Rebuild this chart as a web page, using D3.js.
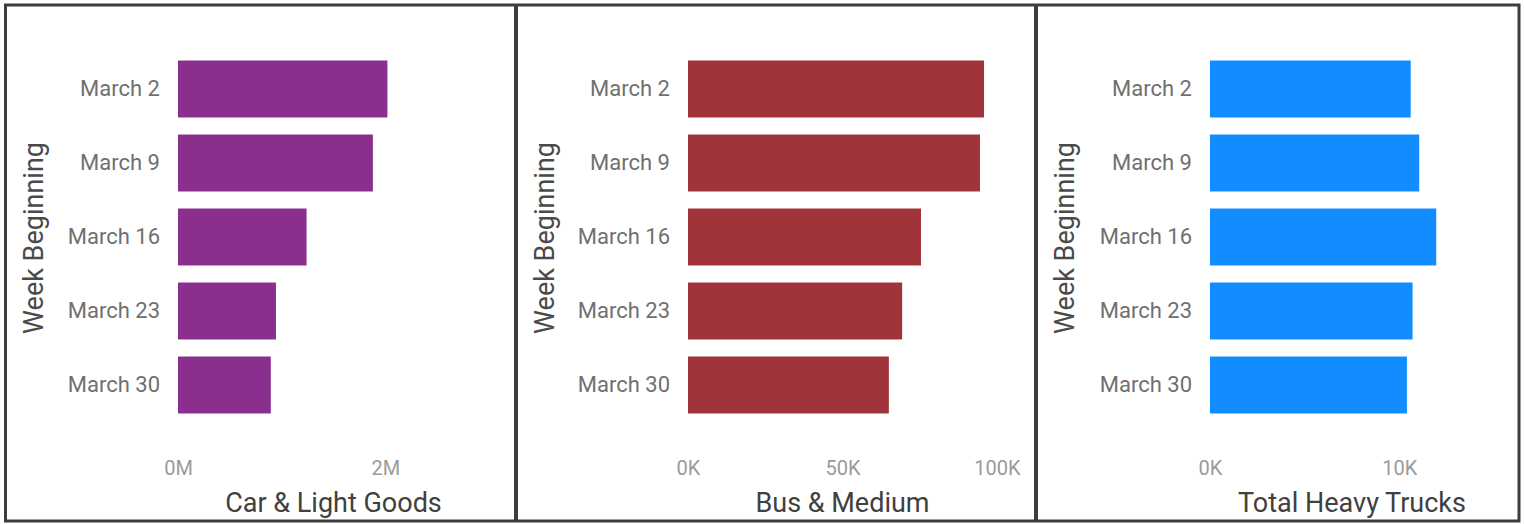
<!DOCTYPE html>
<html>
<head>
<meta charset="utf-8">
<script src="https://cdn.jsdelivr.net/npm/d3@7"></script>
<style>
  body { margin: 0; background: #fff; }
  svg { display: block; }
</style>
</head>
<body>
<svg id="chart"></svg>
<script>
// data
const weeks = ["March 2", "March 9", "March 16", "March 23", "March 30"];
const carLightGoods = [2020000, 1880000, 1240000, 945000, 895000];
const busMedium = [95800, 94500, 75400, 69300, 65000];
const heavyTrucks = [10600, 11050, 11950, 10700, 10400];

const carTicks = [0, 2000000];
const busTicks = [0, 50000, 100000];
const truckTicks = [0, 10000];

const yTitle = "Week Beginning";

const width = 1524;
const height = 524;
const fontFam = "Roboto, 'Open Sans', sans-serif";

let svg = d3.select("#chart").attr("width", width).attr("height", height);

// one entry per panel
const panels = [
  { title: "Car & Light Goods", values: carLightGoods, ticks: carTicks, max: 3000000, unit: "M", color: "#8a2f8e",
    left: 5, right: 516, plotL: 178, plotR: 489 },
  { title: "Bus & Medium", values: busMedium, ticks: busTicks, max: 100000, unit: "K", color: "#a1333b",
    left: 516, right: 1036, plotL: 688, plotR: 997 },
  { title: "Total Heavy Trucks", values: heavyTrucks, ticks: truckTicks, max: 15000, unit: "K", color: "#118dff",
    left: 1036, right: 1519, plotL: 1210, plotR: 1494 }
];

function fmt(unit) {
  return d => unit == "M" ? (d / 1e6) + "M" : (d / 1e3) + "K";
}

function drawPanel(p) {
  let g = svg.append("g");

  let yScale = d3.scaleBand()
    .domain(weeks)
    .range([52, 422])
    .paddingInner(0.23)
    .paddingOuter(0.115);

  let xScale = d3.scaleLinear()
    .domain([0, p.max])
    .range([p.plotL, p.plotR]);

  // bars
  g.selectAll("rect.bar")
    .data(weeks)
    .enter()
    .append("rect")
    .attr("class", "bar")
    .attr("x", xScale(0))
    .attr("y", d => yScale(d))
    .attr("height", yScale.bandwidth())
    .attr("width", (d, i) => xScale(p.values[i]) - xScale(0))
    .attr("fill", p.color);

  // category axis
  let yAxis = d3.axisLeft(yScale).tickSize(0).tickPadding(18);
  let ya = g.append("g")
    .attr("transform", "translate(" + p.plotL + ",0)")
    .call(yAxis);
  ya.select(".domain").remove();
  ya.selectAll("text")
    .attr("fill", "#707070")
    .style("font-family", fontFam)
    .style("font-size", "22px");

  // value axis
  let xAxis = d3.axisBottom(xScale).tickValues(p.ticks).tickFormat(fmt(p.unit)).tickSize(0).tickPadding(2);
  let xa = g.append("g")
    .attr("transform", "translate(0,459)")
    .call(xAxis);
  xa.select(".domain").remove();
  xa.selectAll("text")
    .attr("fill", "#9a9a9a")
    .style("font-family", fontFam)
    .style("font-size", "20px");

  // titles
  g.append("text")
    .text(p.title)
    .attr("x", (p.plotL + p.plotR) / 2)
    .attr("y", 512)
    .attr("text-anchor", "middle")
    .attr("fill", "#404040")
    .style("font-family", fontFam)
    .style("font-size", "27px");

  g.append("text")
    .text(yTitle)
    .attr("transform", "translate(" + (p.left + 38) + ",238) rotate(-90)")
    .attr("text-anchor", "middle")
    .attr("fill", "#4a4a4a")
    .style("font-family", fontFam)
    .style("font-size", "27px");
}

panels.forEach(drawPanel);

// frames
svg.append("rect")
  .attr("x", 5.5).attr("y", 5)
  .attr("width", 1513.5).attr("height", 516)
  .attr("fill", "none")
  .attr("stroke", "#3d3d3d")
  .attr("stroke-width", 3);

panels.slice(1).forEach(p => {
  svg.append("line")
    .attr("x1", p.left).attr("x2", p.left)
    .attr("y1", 4).attr("y2", 522)
    .attr("stroke", "#3d3d3d")
    .attr("stroke-width", 4);
});
</script>
</body>
</html>
